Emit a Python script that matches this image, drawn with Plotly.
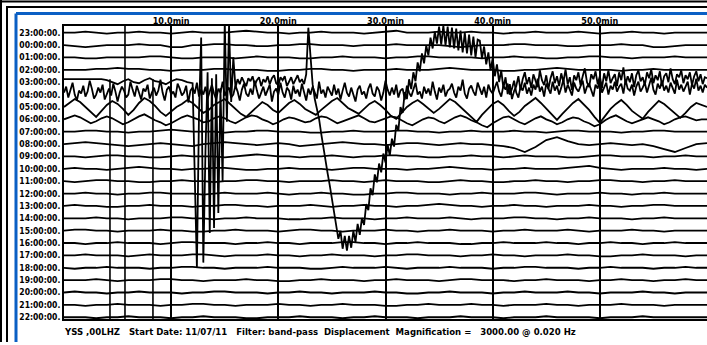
import numpy as np
import plotly.graph_objects as go

# ---------------------------------------------------------------
# Helicorder: YSS .00 LHZ, one 60-minute line per hour
# offsets are trace deflections (upward positive, display units)
# ---------------------------------------------------------------
hour_labels = ["23:00:00.", "00:00:00.", "01:00:00.", "02:00:00.", "03:00:00.",
               "04:00:00.", "05:00:00.", "06:00:00.", "07:00:00.", "08:00:00.",
               "09:00:00.", "10:00:00.", "11:00:00.", "12:00:00.", "13:00:00.",
               "14:00:00.", "15:00:00.", "16:00:00.", "17:00:00.", "18:00:00.",
               "19:00:00.", "20:00:00.", "21:00:00.", "22:00:00."]

minute_ticks = [10, 20, 30, 40, 50]
minute_tick_text = ["10.0min", "20.0min", "30.0min", "40.0min", "50.0min"]

# timing marks (minute, first line they cross)
timing_mark_minutes = [4.29, 5.69, 8.3]
timing_mark_first_line = [4, 0, 4]

r23 = [0,0,1,0,-1,0,0,1,0,0,-1,0,1,0,0,0,1,2,1,0,0,-1,0,0,1,0,0,0,-1,0,1,2,0,0,0,1,0,0,1,0,0,-1,0,0,1,0,0,0,1,0,-1,0,0,1,0,0,-1,0,0,0,0]
r00 = [0,-1,-2,-1,0,0,0,1,0,0,-2,-2,0,0,1,1,0,0,-1,-1,0,0,1,1,0,0,0,-1,0,0,0,1,0,0,0,0,-1,-2,-1,0,0,0,1,1,0,0,0,-1,-1,0,0,0,1,0,0,-2,-2,-1,0,0,0]
r01 = [0,0,-1,-1,0,0,0,0,1,1,0,-1,-1,0,0,0,-1,0,1,0,0,0,-1,-1,0,0,1,0,0,0,-1,0,0,1,1,0,0,0,0,-1,0,0,1,0,0,-1,-1,0,0,1,1,0,0,-1,0,0,0,1,0,0,0]
r02 = [0,0,0,1,1,2,1,1,0,0,-1,0,0,0,1,1,0,0,0,-1,-1,0,0,1,1,0,0,-1,0,0,0,1,0,0,0,1,2,1,0,0,0,-1,-1,0,0,1,2,1,0,0,0,0,-1,0,0,1,0,0,0,0,0]

# line 03:00 carries the earthquake, stored as segments (start minute, step)
r03_quiet = [3,3,3,3,3,3,3,3,2,0,-2,1,3,0,-1,2,4,1,0,-2,1,3,2,0,-1]
r03_pwave = [-187,-30,45,-182,-70,10,-152,4,-147,8,-132,-6,-100,62,-40,58,-20,25,-5]
r03_coda1 = [3,-2,5,0,-4,4,1,6,-3,2,5,-4,3,0,6,-2,4,7,-1,-3,5,2,6,-4,1,5,-2,3,7,0,3,-2]
r03_surface = [8,55,28,-2,-17,-27,-37,-52,-67,-82,-92,-104,-117,-130,-147,-158,-150,-168,-155,-170,
               -155,-167,-150,-161,-143,-154,-137,-144,-123,-129,-107,-114,-93,-101,-82,-91,-72,-81,
               -63,-74,-57,-65,-43,-49,-25,-31,-10,-17,3,-7,10,1,20,11,29,19,37,27,45,34,51,39,56,
               38,57,37,56,35,55,34,54,32,52,30,50,29,48,27,46,25,43,
               42,24,36,18,30,12,24,6,18,0,12,-6,5,-12,-2,-17,-9]
r03_coda2 = [-4,6,-8,3,10,-2,5,-6,8,1,-5,12,2,-3,7,-7,4,11,-1,6,
             -4,9,0,13,-2,5,-8,7,2,10,-3,6,14,0,-5,8,3,11,-2,6,
             -6,9,1,12,-1,4,8,-4,10,2,15,-2,6,0,9,-5,7,12,1,5,
             -3,10,4,13,-1,7,2,11,-4,6,9,0,14,3,-2,8,5,12,-1,7,
             3,10,-3,6,11,1,8,-2,5,4]
r03_starts = [0.0, 12.4, 16.2, 22.6, 42.2]
r03_steps = [0.5, 0.2, 0.2, 0.2, 0.2]

# line 04:00: continuous noisy band, every 0.2 min
r04 = [2,8,-3,5,12,0,-6,4,1,9,-2,3,14,6,-4,0,7,2,10,-5,
       1,6,-1,11,3,-7,2,8,4,-3,0,13,5,-2,9,1,-5,6,3,10,
       -4,2,7,-1,4,15,2,-6,5,8,0,3,-3,11,6,-1,2,9,-8,4,
       7,1,12,-2,5,0,8,-4,3,10,1,-5,6,2,13,-1,4,7,-3,0,
       9,3,-6,5,11,1,-2,6,0,14,4,-4,2,8,-1,5,10,-7,3,6,
       0,12,2,-3,7,4,-5,9,1,5,-2,11,3,-6,6,0,8,2,-4,13,
       1,5,-3,8,3,-1,10,0,6,-5,4,12,2,-2,7,1,-7,5,9,0,
       3,-4,6,11,1,-2,8,4,-6,2,14,5,-1,7,0,10,-3,4,6,-5,
       9,2,-2,5,12,0,3,-4,8,1,6,-1,13,3,-5,7,2,10,-2,4,
       6,11,2,-3,8,4,15,1,-4,6,9,3,-1,12,5,0,8,-3,10,4,
       1,7,13,3,-2,9,5,11,0,6,14,2,-3,8,4,12,1,7,-1,10,
       5,16,3,8,-2,11,6,1,13,4,9,0,7,15,2,10,5,-1,12,6,
       3,9,14,1,8,11,4,-2,10,6,16,2,7,12,0,9,5,13,3,8,
       11,1,15,6,4,10,-1,8,13,3,7,12,2,9,17,5,0,11,6,14,
       4,9,2,12,7,1,15,5,10,3,8,13,0,11,6,16,4,9,2,10,
       7]

r05 = [0,4,8,5,0,-6,-10,-4,2,6,3,-2,-8,-3,4,9,6,1,-5,-9,-4,0,3,7,4,-1,-6,-3,2,5,8,3,-2,-7,-10,
       -5,1,5,2,-3,-6,-1,4,7,3,-2,-5,-8,-3,2,6,9,4,-1,-4,-7,-2,3,6,2,-3,-9,-12,-6,0,4,7,3,-2,-6,
       -2,3,8,5,0,-5,-11,-15,-8,-2,3,6,2,-4,-9,-5,1,5,9,4,-2,-8,-13,-7,-1,4,8,3,-3,-10,-16,-9,
       -2,3,7,2,-4,-8,-12,-5,1,6,3,-2,-7,-11,-6,0,4,2,0]
r06 = [0,2,4,2,-1,-4,-2,1,3,1,-2,-5,-3,0,3,5,2,-1,-3,-6,-4,-1,2,4,2,0,-3,-2,1,3,1,-2,-4,-1,2,4,
       3,0,-2,-5,-3,0,2,1,-1,-3,-2,1,3,2,-1,-4,-2,0,2,4,1,-2,-3,-1,1,3,2,-1,-4,-6,-3,0,2,1,-2,
       -4,-1,2,4,2,-1,-3,-6,-8,-4,-1,2,3,0,-3,-5,-2,1,3,0,-2,-5,-3,0,2,1,-2,-4,-7,-5,-1,2,4,1,
       -2,-4,-2,0,2,0,-2,-5,-3,0,2,3,1,-1,0,0]
r07 = [0,0,1,1,0,0,-1,0,0,1,2,1,0,0,0,-1,0,0,1,1,0,0,0,-1,-1,0,0,1,0,0,0,1,1,0,0,-1,0,0,1,0,0,0,1,0,0,-1,0,1,1,0,0,0,-1,0,0,1,1,0,0,0,0]
r08 = [0,1,2,1,0,-1,-2,-1,0,1,0,-1,-2,0,1,2,1,0,-1,0,1,0,-2,-1,0,1,2,1,0,0,-1,0,1,1,0,-1,0,1,0,0,-1,-2,-4,-8,-3,4,7,3,0,-1,0,1,0,-1,0,-2,-5,-8,-4,0,1]
r09 = [0,0,-1,0,1,1,0,0,-1,-1,0,1,0,0,0,-1,0,1,2,1,0,0,-1,0,0,1,0,-1,0,0,1,1,0,0,-1,-1,0,0,1,0,0,-1,0,1,0,0,0,-1,-1,0,1,1,0,0,0,-1,0,0,1,0,0]
r10 = [0,1,0,0,-1,0,1,2,1,0,0,-1,0,0,1,1,0,-1,-1,0,0,1,0,0,0,-1,0,1,1,0,0,0,-1,0,0,1,2,1,0,0,-1,0,0,1,0,0,0,1,2,3,1,0,-1,0,0,0,1,0,0,-1,0]
r11 = [0,-1,0,1,1,0,0,-1,-1,0,0,1,0,0,-1,0,0,1,1,0,0,-1,0,0,0,1,0,0,-1,0,1,0,0,0,-1,-1,0,1,0,0,-1,-1,0,0,1,0,0,-1,0,0,1,1,0,0,-1,0,0,1,0,0,0]
r12 = [0,0,1,0,0,-1,0,0,1,1,0,0,0,-1,0,1,0,0,0,1,0,-1,0,0,1,0,0,-1,-1,0,0,1,1,0,0,0,-1,0,0,1,0,0,0,1,1,0,-1,0,0,0,1,0,0,-1,0,0,1,0,0,0,0]
r13 = [0,1,0,0,-1,-1,0,0,1,0,0,0,-1,0,0,1,1,0,0,-1,0,0,0,1,0,-1,0,0,1,0,0,-1,0,0,1,2,1,0,0,-1,0,0,1,0,0,-1,0,0,0,1,0,0,-1,0,0,1,1,0,0,0,0]
r14 = [0,0,0,1,0,0,-1,0,0,0,1,1,0,0,-1,0,0,1,0,0,0,-1,-1,0,0,1,0,0,0,-1,0,0,1,0,0,0,1,0,-1,0,0,0,1,1,0,0,-1,0,0,1,0,0,0,-1,0,0,1,0,0,0,0]
r15 = [0,1,1,0,0,-1,0,0,0,1,0,0,-1,-1,0,0,1,0,0,0,-1,0,1,1,0,0,-1,0,0,0,1,0,0,-1,0,0,1,0,0,0,-1,0,0,1,0,0,0,1,0,-1,0,0,0,1,0,0,-1,0,0,0,0]
r16 = [0,0,-1,0,0,1,0,0,0,-1,0,1,1,0,0,0,-1,0,0,1,0,0,-1,0,0,0,1,1,0,0,-1,0,0,1,0,0,0,-1,-1,0,0,1,0,0,0,1,0,0,-1,0,0,1,0,0,-1,0,0,1,0,0,0]
r17 = [0,0,1,0,0,0,-1,0,1,0,0,0,1,1,0,-1,0,0,0,1,0,0,-1,0,0,1,0,0,0,-1,0,0,1,1,0,0,0,-1,0,0,1,0,0,-1,0,0,0,1,0,0,-1,-1,0,0,1,0,0,0,-1,0,0]
r18 = [0,-1,0,0,1,0,0,0,-1,0,0,1,1,0,0,-1,0,0,0,1,0,0,0,-1,-1,0,1,0,0,0,1,0,-1,0,0,0,1,0,0,0,-1,0,0,1,1,0,0,0,-1,0,0,1,0,0,0,-1,0,0,1,0,0]
r19 = [0,0,0,1,0,-1,0,0,0,1,1,0,0,-1,0,0,0,1,0,0,-1,-1,0,0,1,0,0,0,-1,0,0,1,0,0,0,-1,0,1,1,0,0,0,-1,0,0,1,0,0,0,-1,0,0,1,0,0,-1,0,0,1,0,0]
r20 = [0,1,0,0,-1,0,0,1,0,0,0,-1,0,0,1,1,0,0,0,-1,0,0,1,0,0,-1,0,0,0,1,0,0,-1,-1,0,0,1,0,0,0,-1,0,0,1,0,0,0,1,0,0,-1,0,0,0,1,0,0,-1,0,0,0]
r21 = [0,0,-1,0,0,1,0,0,0,-1,0,0,1,1,0,0,-1,0,0,0,1,0,0,-1,0,0,1,0,0,0,-1,-1,0,0,1,0,0,0,1,0,0,-1,0,0,0,1,0,0,-1,0,0,0,1,0,0,0,-1,0,0,0,0]
r22 = [0,0,0,-1,0,0,1,0,0,0,-1,0,0,1,0,0,0,-1,-1,0,0,0,1,0,0,0,-1,0,0,1,0,0,0,-1,0,0,0,1,0,0,0,-1,0,0,0,1,0,0,0,0,-1,0,0,0,1,0,0,0,0,0,0]

# ---------------------------------------------------------------
W, H = 707, 345
PLOT_L, PLOT_T, PLOT_B = 64, 26, 322
FIRST_LINE, LINE_GAP = 33.0, 12.48
BLUE = "#0a5fc4"
TXT = "DejaVu Sans Condensed, Liberation Sans Narrow, Arial Narrow, sans-serif"


def px_x(p):
    return p / W


def px_y(p):
    return 1 - p / H


def row_xy_simple(vals):
    x = np.linspace(0, 60, len(vals))
    return x, np.asarray(vals, dtype=float)


def row_xy_segments(segments, starts, steps):
    xs, ys = [], []
    for seg, s0, st in zip(segments, starts, steps):
        xs.append(s0 + st * np.arange(len(seg)))
        ys.append(np.asarray(seg, dtype=float))
    return np.concatenate(xs), np.concatenate(ys)


rows = [row_xy_simple(r23), row_xy_simple(r00), row_xy_simple(r01), row_xy_simple(r02),
        row_xy_segments([r03_quiet, r03_pwave, r03_coda1, r03_surface, r03_coda2],
                        r03_starts, r03_steps),
        row_xy_simple(r04),
        row_xy_simple(r05), row_xy_simple(r06), row_xy_simple(r07), row_xy_simple(r08),
        row_xy_simple(r09), row_xy_simple(r10), row_xy_simple(r11), row_xy_simple(r12),
        row_xy_simple(r13), row_xy_simple(r14), row_xy_simple(r15), row_xy_simple(r16),
        row_xy_simple(r17), row_xy_simple(r18), row_xy_simple(r19), row_xy_simple(r20),
        row_xy_simple(r21), row_xy_simple(r22)]

baselines = [FIRST_LINE + LINE_GAP * i for i in range(len(hour_labels))]

fig = go.Figure()

for (x, off), base in zip(rows, baselines):
    fig.add_trace(go.Scatter(x=x, y=base - off, mode="lines",
                             line=dict(color="black", width=1.8),
                             hoverinfo="skip", showlegend=False))

shapes = []
# timing marks across the drum
for m, first in zip(timing_mark_minutes, timing_mark_first_line):
    y_top = PLOT_T if first == 0 else baselines[first] - 3
    shapes.append(dict(type="line", xref="x", yref="y", x0=m, x1=m, y0=y_top, y1=PLOT_B,
                       line=dict(color="black", width=1.6)))

# window decoration: double black rule, blue frame
shapes += [
    dict(type="line", xref="paper", yref="paper", x0=0, x1=1, y0=px_y(1.5), y1=px_y(1.5),
         line=dict(color="black", width=2)),
    dict(type="line", xref="paper", yref="paper", x0=px_x(6), x1=1, y0=px_y(7), y1=px_y(7),
         line=dict(color="black", width=2)),
    dict(type="line", xref="paper", yref="paper", x0=px_x(1), x1=px_x(1), y0=0, y1=1,
         line=dict(color="black", width=2)),
    dict(type="line", xref="paper", yref="paper", x0=px_x(7), x1=px_x(7), y0=0, y1=px_y(7),
         line=dict(color="black", width=2)),
    dict(type="line", xref="paper", yref="paper", x0=px_x(16), x1=1, y0=px_y(13.5), y1=px_y(13.5),
         line=dict(color=BLUE, width=3)),
    dict(type="line", xref="paper", yref="paper", x0=px_x(16), x1=px_x(16), y0=0, y1=px_y(13.5),
         line=dict(color=BLUE, width=3)),
]

fig.update_layout(
    width=W, height=H,
    margin=dict(l=0, r=0, t=0, b=0),
    paper_bgcolor="white", plot_bgcolor="white",
    shapes=shapes,
    xaxis=dict(domain=[px_x(PLOT_L), 1.0], range=[0, 60], side="top",
               tickmode="array", tickvals=minute_ticks,
               ticktext=["<b>%s</b>" % t for t in minute_tick_text],
               ticks="", ticklabelstandoff=-4,
               tickfont=dict(family=TXT, size=9, color="black"),
               showgrid=True, gridcolor="black", gridwidth=2,
               showline=True, linecolor="black", linewidth=2, mirror=True,
               zeroline=False, fixedrange=True),
    yaxis=dict(domain=[px_y(PLOT_B), px_y(PLOT_T)], range=[PLOT_B, PLOT_T],
               tickmode="array", tickvals=baselines,
               ticktext=["<b>%s</b>" % t for t in hour_labels],
               ticks="", tickfont=dict(family=TXT, size=8.5, color="black"),
               showgrid=False, showline=True, linecolor="black", linewidth=2,
               mirror=False, zeroline=False, fixedrange=True),
    annotations=[dict(xref="paper", yref="paper", x=px_x(62), y=px_y(334),
                      xanchor="left", yanchor="middle", showarrow=False,
                      text="<b>YSS ,00LHZ   Start Date: 11/07/11   Filter: band-pass  Displacement  "
                           "Magnification =   3000.00 @ 0.020 Hz</b>",
                      font=dict(family=TXT, size=9.5, color="black"))],
)

fig.write_html("out.html")
